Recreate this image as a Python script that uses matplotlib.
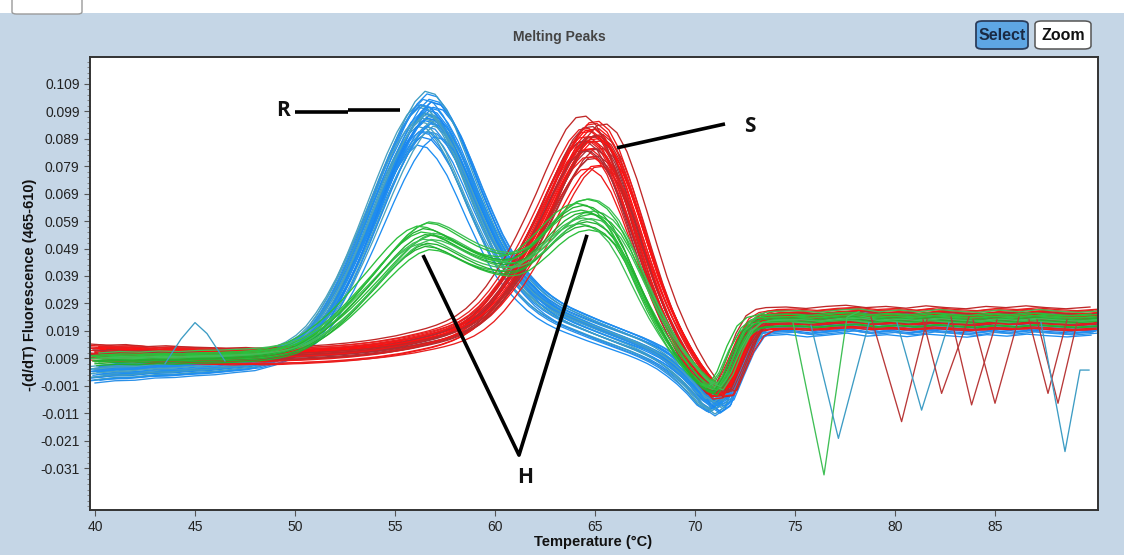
"""Melting peaks plot: -(d/dT) fluorescence vs temperature for R, S and H genotypes."""

import numpy as np
import matplotlib
matplotlib.use('Agg')
import matplotlib.pyplot as plt
from matplotlib.patches import Rectangle, FancyBboxPatch
from matplotlib.ticker import FormatStrFormatter, AutoMinorLocator

# ============================== DATA ==============================
# shared temperature grid (deg C): 1-degree steps on the baselines, 0.5 through the peaks
TEMPS = np.concatenate([np.arange(40, 48), np.arange(48, 74.5, 0.5), np.arange(75, 90), [90.2]])

# representative curve for each group
R_VALS = [0.0040, 0.0048, 0.0050, 0.0058, 0.0060, 0.0066, 0.0070, 0.0078,
          0.0085, 0.0095, 0.0105, 0.0118, 0.0135, 0.0160, 0.0195, 0.0245, 0.0305, 0.0375,
          0.0455, 0.0540, 0.0630, 0.0720, 0.0805, 0.0880, 0.0940, 0.0975, 0.0965, 0.0920,
          0.0855, 0.0770, 0.0680, 0.0595, 0.0515, 0.0450, 0.0400, 0.0358, 0.0320, 0.0290,
          0.0266, 0.0246, 0.0230, 0.0215, 0.0200, 0.0186, 0.0172, 0.0158, 0.0144, 0.0128,
          0.0110, 0.0088, 0.0060, 0.0028, -0.0010, -0.0055, -0.0080, -0.0055, 0.0040, 0.0130,
          0.0190, 0.0215, 0.0220,
          0.0225, 0.0215, 0.0222, 0.0230, 0.0218, 0.0224, 0.0216, 0.0226, 0.0220, 0.0214,
          0.0224, 0.0218, 0.0226, 0.0220, 0.0215, 0.0222]
S_VALS = [0.0115, 0.0110, 0.0112, 0.0105, 0.0108, 0.0104, 0.0102, 0.0100,
          0.0102, 0.0100, 0.0101, 0.0102, 0.0104, 0.0105, 0.0107, 0.0109, 0.0111, 0.0114,
          0.0117, 0.0121, 0.0125, 0.0130, 0.0136, 0.0142, 0.0150, 0.0158, 0.0167, 0.0178,
          0.0192, 0.0210, 0.0235, 0.0268, 0.0310, 0.0360, 0.0415, 0.0480, 0.0550, 0.0625,
          0.0705, 0.0780, 0.0845, 0.0885, 0.0890, 0.0860, 0.0795, 0.0700, 0.0590, 0.0475,
          0.0365, 0.0270, 0.0190, 0.0120, 0.0060, 0.0010, -0.0030, -0.0025, 0.0060, 0.0150,
          0.0210, 0.0232, 0.0238,
          0.0240, 0.0235, 0.0242, 0.0246, 0.0238, 0.0242, 0.0236, 0.0244, 0.0238, 0.0234,
          0.0242, 0.0238, 0.0244, 0.0238, 0.0234, 0.0240]
H_VALS = [0.0085, 0.0090, 0.0088, 0.0092, 0.0090, 0.0094, 0.0095, 0.0098,
          0.0102, 0.0106, 0.0112, 0.0120, 0.0132, 0.0150, 0.0172, 0.0198, 0.0228, 0.0262,
          0.0300, 0.0340, 0.0380, 0.0422, 0.0462, 0.0498, 0.0525, 0.0540, 0.0535, 0.0520,
          0.0500, 0.0480, 0.0462, 0.0448, 0.0438, 0.0433, 0.0438, 0.0455, 0.0485, 0.0520,
          0.0558, 0.0590, 0.0612, 0.0620, 0.0612, 0.0588, 0.0545, 0.0480, 0.0400, 0.0320,
          0.0245, 0.0180, 0.0120, 0.0070, 0.0025, -0.0010, -0.0025, 0.0030, 0.0120, 0.0190,
          0.0220, 0.0228, 0.0230,
          0.0232, 0.0226, 0.0234, 0.0238, 0.0228, 0.0234, 0.0228, 0.0236, 0.0230, 0.0226,
          0.0234, 0.0228, 0.0236, 0.0230, 0.0226, 0.0232]

# per-sample spread around the representative curve: height scale, Tm shift (deg C), offset
R_SCALE = [0.92, 0.93, 0.94, 0.95, 0.95, 0.96, 0.97, 0.97, 0.98, 0.98, 0.99, 0.99, 1.00, 1.00, 1.01, 1.01,
           1.02, 1.02, 1.03, 1.03, 1.04, 1.04, 1.05, 1.05, 1.06, 1.06, 1.07, 1.08, 0.93, 0.96, 1.00, 1.04,
           0.98, 1.01, 1.03, 0.99]
R_SHIFT = [-0.4, 0.1, -0.2, 0.3, -0.1, 0.4, 0.0, -0.3, 0.2, -0.4, 0.1, 0.3, -0.2, 0.0, 0.4, -0.1,
           0.2, -0.3, 0.1, 0.3, -0.2, 0.0, 0.2, -0.4, 0.1, -0.1, 0.3, 0.0, 0.45, -0.45, 0.25, -0.25,
           0.05, -0.15, 0.15, -0.05]
R_OFFSET = [-0.003, 0.001, -0.002, 0.002, -0.001, 0.000, 0.001, -0.003, 0.002, -0.002, 0.000, -0.001,
            0.001, -0.004, 0.002, 0.000, -0.002, 0.001, -0.001, 0.002, 0.000, -0.003, 0.001, -0.001,
            0.002, 0.000, -0.002, 0.001, -0.001, 0.002, -0.003, 0.000, 0.001, -0.002, 0.000, 0.001]

S_SCALE = [0.88, 0.90, 0.92, 0.93, 0.94, 0.95, 0.96, 0.96, 0.97, 0.97, 0.98, 0.98, 0.99, 0.99, 1.00, 1.00,
           1.01, 1.01, 1.02, 1.02, 1.03, 1.03, 1.04, 1.04, 1.05, 1.05, 1.06, 1.07, 0.91, 0.95, 0.99, 1.02,
           1.06]
S_SHIFT = [0.3, -0.2, 0.1, -0.4, 0.2, 0.0, -0.1, 0.4, -0.3, 0.1, 0.3, -0.2, 0.0, 0.2, -0.4, 0.1,
           -0.1, 0.3, -0.3, 0.0, 0.2, -0.2, 0.4, 0.1, -0.1, 0.0, 0.2, -0.45, 0.45, -0.25, 0.25, -0.3,
           0.6]
S_OFFSET = [0.001, -0.002, 0.000, 0.002, -0.001, 0.001, -0.003, 0.000, 0.002, -0.001, 0.001, -0.002,
            0.000, 0.002, -0.001, 0.001, -0.002, 0.000, 0.002, -0.001, 0.001, 0.000, -0.002, 0.002,
            0.000, -0.001, 0.001, 0.002, -0.002, 0.000, 0.001, -0.001, 0.000]

H_SCALE = [0.90, 0.92, 0.94, 0.96, 0.97, 0.98, 1.00, 1.01, 1.02, 1.04, 1.05, 1.06, 1.08, 0.95]
H_SHIFT = [0.2, -0.3, 0.0, 0.3, -0.1, 0.1, -0.2, 0.4, 0.0, -0.4, 0.2, -0.1, 0.1, 0.3]
H_OFFSET = [0.000, 0.001, -0.001, 0.002, 0.000, -0.002, 0.001, 0.000, -0.001, 0.001, 0.002, -0.001, 0.000, 0.001]

# stray sample traces that dip below the baseline after melting
DIP_COLORS = ['#3fbf55', '#3d9cc4', '#b83838', '#3d9cc4', '#b83838', '#b83838',
              '#b83838', '#b83838', '#b83838', '#3d9cc4', '#3d9cc4']
DIP_T = [[74.9, 76.45, 77.6, 78.2], [75.8, 77.17, 78.7], [78.8, 80.33, 81.6],
         [80.1, 81.33, 82.7], [81.4, 82.33, 83.7], [82.8, 83.83, 85.1],
         [83.9, 85.0, 86.2], [86.7, 87.65, 88.6], [87.1, 88.15, 89.1],
         [87.3, 88.5, 89.25, 89.7], [43.5, 44.3, 45.0, 45.6, 46.5]]
DIP_V = [[0.022, -0.0335, 0.024, 0.026], [0.021, -0.0202, 0.022], [0.024, -0.0141, 0.023],
         [0.022, -0.0099, 0.022], [0.023, -0.0038, 0.024], [0.024, -0.0080, 0.023],
         [0.023, -0.0074, 0.024], [0.023, -0.0038, 0.023], [0.023, -0.0074, 0.022],
         [0.022, -0.0250, 0.0047, 0.0047], [0.007, 0.016, 0.022, 0.018, 0.008]]

YTICKS = [-0.031, -0.021, -0.011, -0.001, 0.009, 0.019, 0.029, 0.039, 0.049,
          0.059, 0.069, 0.079, 0.089, 0.099, 0.109]
XTICKS = [40, 45, 50, 55, 60, 65, 70, 75, 80, 85]

R_COLORS = ['#1e8ef2', '#2a90e8', '#1a86f0', '#3d9cc4', '#1e8ef2', '#4aa2c0']
S_COLORS = ['#ff1010', '#f01818', '#c02828', '#e82020', '#a83038']
H_COLORS = ['#2cbf3c', '#3fbf55', '#22b030']
# ==================================================================

BG = '#c5d6e6'
W, H = 1124, 555
NARROW = ['Liberation Sans', 'DejaVu Sans']

fig = plt.figure(figsize=(W / 100, H / 100), dpi=100)
fig.patch.set_facecolor(BG)

# white strip along the top with the window tab
fig.patches.append(Rectangle((0, 1 - 13 / H), 1, 13 / H, transform=fig.transFigure,
                             facecolor='white', edgecolor='none'))
fig.patches.append(FancyBboxPatch((12 / W, 1 - 14 / H), 70 / W, 16 / H, transform=fig.transFigure,
                                  boxstyle='round,pad=0,rounding_size=0.004',
                                  facecolor='white', edgecolor='#9a9a9a', lw=1))

ax = fig.add_axes([90 / W, 1 - 510 / H, (1098 - 90) / W, (510 - 57) / H])
ax.set_facecolor('white')

temps = np.asarray(TEMPS)
groups = [(R_VALS, R_SCALE, R_SHIFT, R_OFFSET, R_COLORS),
          (S_VALS, S_SCALE, S_SHIFT, S_OFFSET, S_COLORS),
          (H_VALS, H_SCALE, H_SHIFT, H_OFFSET, H_COLORS)]
for vals, scales, shifts, offsets, colors in groups:
    vals = np.asarray(vals)
    for i, (sc, sh, off) in enumerate(zip(scales, shifts, offsets)):
        ax.plot(temps + sh, vals * sc + off, color=colors[i % len(colors)], lw=0.95)

for c, t, v in zip(DIP_COLORS, DIP_T, DIP_V):
    ax.plot(t, v, color=c, lw=0.95)

ax.set_xlim(39.75, 90.15)
ax.set_ylim(-0.0463, 0.1188)
ax.set_xticks(XTICKS)
ax.set_yticks(YTICKS)
ax.yaxis.set_major_formatter(FormatStrFormatter('%.3f'))
ax.yaxis.set_minor_locator(AutoMinorLocator(5))
ax.tick_params(axis='both', which='major', direction='out', length=4, width=0.8,
               color='#555555', labelcolor='#222222', labelsize=10)
ax.tick_params(axis='y', which='minor', direction='out', length=2, width=0.6, color='#777777')
for lab in ax.get_xticklabels() + ax.get_yticklabels():
    lab.set_family(NARROW)
for s in ax.spines.values():
    s.set_color('#333333')
    s.set_linewidth(1.4)

# R / S / H annotations
ann = dict(color='black', lw=2.6, solid_capstyle='butt')
ax.plot([50.0, 52.65], [0.0988, 0.0988], **ann)
ax.plot([52.65, 55.25], [0.0995, 0.0995], **ann)
ax.plot([66.1, 71.5], [0.0857, 0.0944], **ann)
ax.plot([56.4, 61.2, 64.6], [0.0466, -0.0263, 0.0540], **ann)
letter = dict(fontsize=15, fontweight='bold', family=['Open Sans', 'DejaVu Sans'],
              ha='center', va='center', color='#111111')
ax.text(49.4, 0.0992, 'R', **letter)
ax.text(72.75, 0.0933, 'S', **letter)
ax.text(61.5, -0.0346, 'H', **letter)

# titles and axis labels
fig.text(559 / W, 1 - 37 / H, 'Melting Peaks', ha='center', va='center', fontsize=10,
         color='#444444', fontweight='bold', family=NARROW)
fig.text(593 / W, 1 - 542 / H, 'Temperature (°C)', ha='center', va='center', fontsize=10.5,
         fontweight='bold', color='#111111', family=NARROW)
fig.text(30 / W, 1 - 285 / H, '-(d/dT) Fluorescence (465-610)', ha='center', va='center',
         rotation=90, fontsize=10.5, fontweight='bold', color='#111111', family=NARROW)

# Select / Zoom buttons
fig.patches.append(FancyBboxPatch((976 / W, 1 - 49 / H), 52 / W, 28 / H, transform=fig.transFigure,
                                  boxstyle='round,pad=0,rounding_size=0.006',
                                  facecolor='#5ea6e4', edgecolor='#2c3e5c', lw=1.3))
fig.patches.append(FancyBboxPatch((1035 / W, 1 - 49 / H), 56 / W, 28 / H, transform=fig.transFigure,
                                  boxstyle='round,pad=0,rounding_size=0.006',
                                  facecolor='white', edgecolor='#555555', lw=1.1))
fig.text(1002 / W, 1 - 35 / H, 'Select', ha='center', va='center', fontsize=11.5,
         fontweight='bold', color='#1a2a44', family=NARROW)
fig.text(1063 / W, 1 - 35 / H, 'Zoom', ha='center', va='center', fontsize=11.5,
         fontweight='bold', color='#111111', family=NARROW)

fig.savefig('out.png', dpi=100, facecolor=fig.get_facecolor())
